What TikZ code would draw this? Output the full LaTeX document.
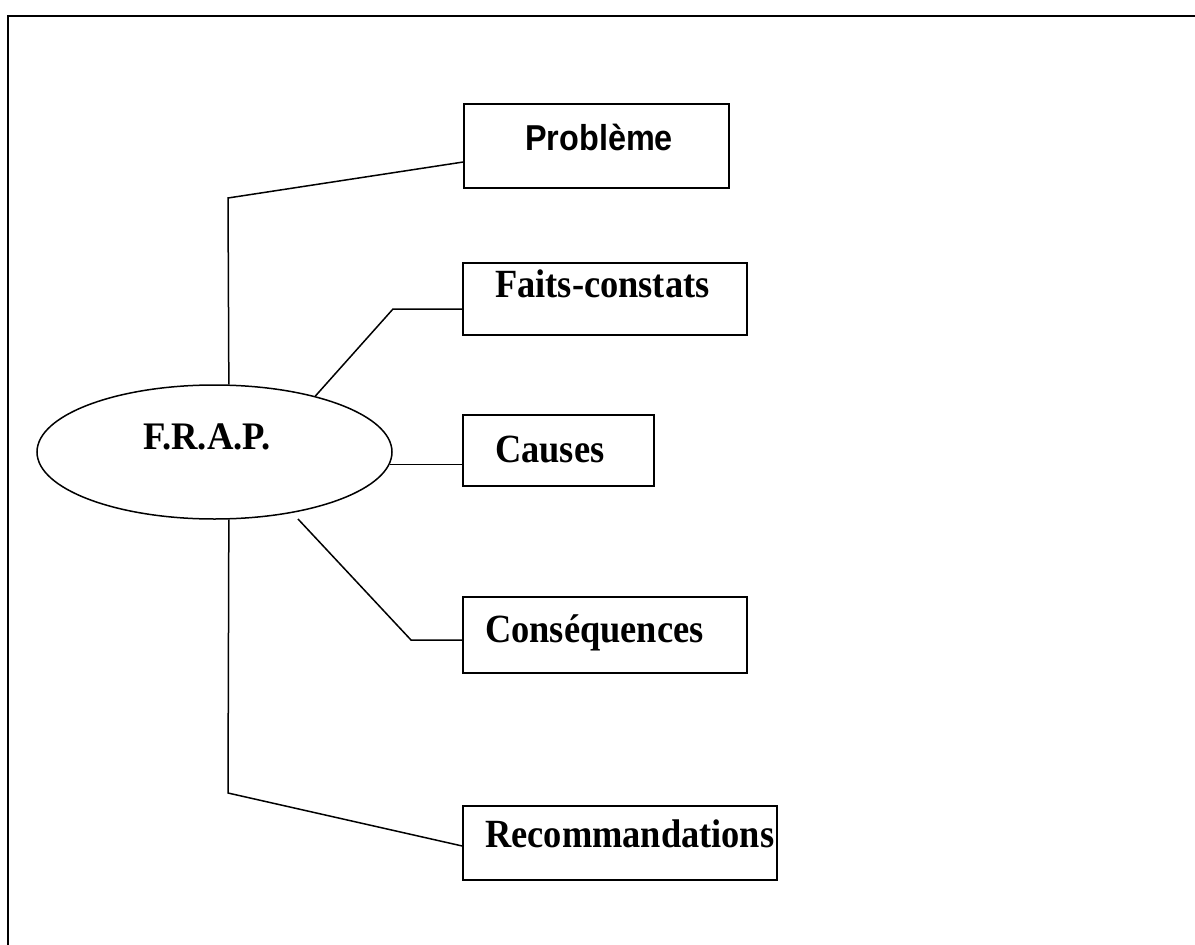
\documentclass[tikz,border=0pt]{standalone}
\usepackage{fontspec}
\setmainfont{Liberation Serif}
\newfontfamily\labelsans{Liberation Sans}
\usetikzlibrary{shapes.geometric}

% bold serif label, slightly condensed
\newcommand{\itemlabel}[1]{\scalebox{0.91}[1]{#1}}

\tikzset{
  frame/.style={line width=2pt},
  link/.style={line width=1.5pt},
  itembox/.style={draw, rectangle, line width=1.5pt, inner sep=0pt},
  itemtext/.style={anchor=base west, inner sep=0pt, font=\fontsize{40}{48}\selectfont\bfseries},
}

\begin{document}
\begin{tikzpicture}[x=1pt, y=-1pt]
  \useasboundingbox (0,0) rectangle (1195,945);

  % page frame (top and left edges)
  \draw[frame] (8,945) -- (8,16) -- (1195,16);

  % central ellipse
  \node[draw, ellipse, line width=1.5pt, inner sep=0pt,
        minimum width=355pt, minimum height=134pt] (frap) at (214.5,452) {};
  \node[anchor=base west, inner sep=0pt, font=\fontsize{39}{46}\selectfont\bfseries]
        (frapt) at (143,449) {\scalebox{0.94}[1]{F.R.A.P.}};

  % item boxes
  \node[itembox, minimum width=265pt, minimum height=84pt] (prob)   at (596.5,146) {};
  \node[itembox, minimum width=284pt, minimum height=72pt] (faits)  at (605,299)   {};
  \node[itembox, minimum width=191pt, minimum height=71pt] (causes) at (558.5,450.5) {};
  \node[itembox, minimum width=284pt, minimum height=76pt] (conseq) at (605,635)   {};
  \node[itembox, minimum width=314pt, minimum height=74pt] (recom)  at (620,843)   {};

  % item labels
  \node[anchor=base west, inner sep=0pt,
        font=\labelsans\fontsize{36}{43}\selectfont\bfseries] (probt) at (525,150)
        {\scalebox{0.9}[1]{Problème}};
  \node[itemtext] (faitst)  at (495,297) {\itemlabel{Faits-constats}};
  \node[itemtext] (causest) at (495,462) {\itemlabel{Causes}};
  \node[itemtext] (conseqt) at (485,642) {\itemlabel{Conséquences}};
  \node[itemtext] (recomt)  at (485,847) {\itemlabel{Recommandations}};

  % connector bends
  \coordinate (bprob)  at (228,198);
  \coordinate (bfaits) at (393,309);
  \coordinate (sconseq) at (298,519);
  \coordinate (bconseq) at (411,640);
  \coordinate (brecom) at (228,793);

  % connectors
  \draw[link] (frap.78.5) -- (bprob) -- ([yshift=-16pt]prob.west);
  \draw[link] (frap.29.6) -- (bfaits) -- (faits.west |- bfaits);
  \draw[link] (frap.-4.2) -- (causes.west |- frap.-4.2);
  \draw[link] (sconseq) -- (bconseq) -- (conseq.west |- bconseq);
  \draw[link] (frap.-78.6) -- (brecom) -- ([yshift=-3pt]recom.west);
\end{tikzpicture}
\end{document}
